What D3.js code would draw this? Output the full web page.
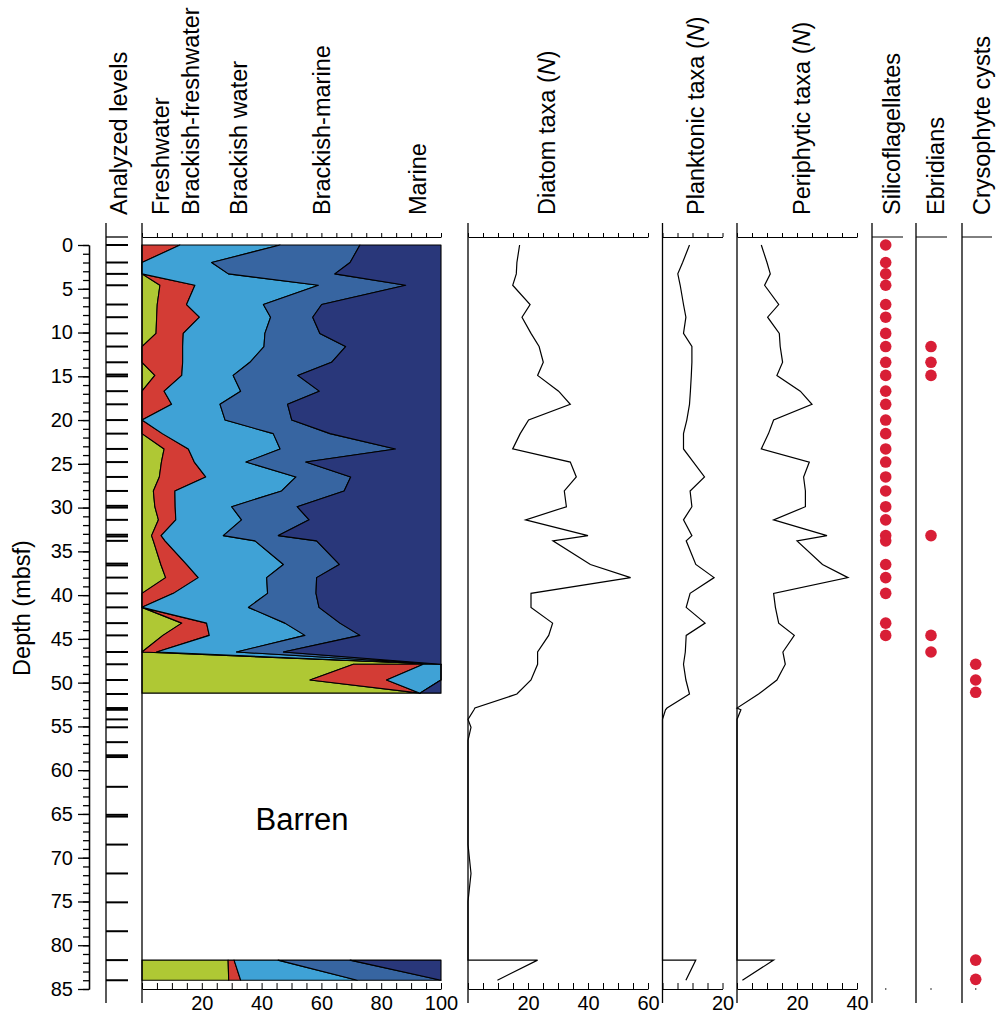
<!DOCTYPE html>
<html><head><meta charset="utf-8">
<script src="https://cdn.jsdelivr.net/npm/d3@7/dist/d3.min.js"></script>
<style>
body{margin:0;background:#fff}
svg{display:block}
text{font-family:"Liberation Sans",Arial,Helvetica,sans-serif;fill:#000}
</style>
</head><body><svg id="c" width="999" height="1023"></svg>
<script>
// ---------------- DATA ----------------
const analyzedLevels = [0,2.0,3.3,4.6,6.8,8.25,10.1,11.6,13.4,14.8,15.0,16.7,18.2,20.0,21.55,23.3,24.8,26.5,28.1,29.8,30.0,31.4,33.1,33.3,33.8,36.4,36.6,38.0,39.8,41.4,43.2,44.6,46.5,47.9,49.7,51.3,52.9,53.1,54.2,55.1,56.8,58.3,58.5,61.9,65.1,65.3,68.5,71.8,75.1,78.4,81.7,84.0];

const ecoGroups = ["Freshwater","Brackish-freshwater","Brackish water","Brackish-marine","Marine"];
const ecoColors = ["#afc834","#d33c35","#3fa2d6","#3765a1","#29377a"];
const ecoDepth = [0,2.0,3.3,4.6,6.8,8.25,10.1,11.6,13.4,14.9, 16.7,18.2,20.0,21.55,23.3,24.8,26.5,28.1,29.9,31.4, 33.2,33.8,36.5,38.0,39.8,41.4,43.2,44.6,46.5,47.9, 47.9,49.7,51.2, 81.7,84.0];
const ecoSegment = [1,1,1,1,1,1,1,1,1,1, 1,1,1,1,1,1,1,1,1,1, 1,1,1,1,1,1,1,1,1,1, 1,1,1, 2,2];
const freshwater     = [0,0,0,6.0,5.1,4.9,4.7,0,0,4.3, 0,0,0,0,7.4,6.5,5.8,3.8,4.3,5.5, 3.2,3.8,6.3,7.9,0,0,13.3,7.0,0,100, 70.7,56.2,93.0, 28.8,29.0];
const brackishFresh  = [12.7,0,0,11.7,9.8,14.3,9.1,13.6,13.6,9.0, 7.4,9.9,0,6.8,8.1,11.0,15.5,7.2,6.8,5.8, 3.2,3.9,8.6,10.9,10.5,0,8.3,15.5,4.9,0, 23.4,25.6,0, 2.0,4.0];
const brackishWater  = [33.5,23.3,28.9,41.3,25.7,23.8,27.3,27.2,22.5,17.2, 25.6,16.2,27.8,37.1,30.7,17.3,30.2,35.7,18.9,22.0, 20.8,30.1,32.4,22.9,31.5,35.6,26.2,32.0,26.7,0, 5.9,18.2,0, 14.7,39.0];
const brackishMarine = [26.7,46.3,35.6,29.2,19.5,14.1,18.4,27.3,27.3,21.6, 26.3,22.6,22.3,19.0,38.6,20.0,18.3,20.9,21.9,22.6, 18.4,20.6,18.7,16.7,16.2,23.6,18.4,18.4,15.7,0, 0,0,0, 24.1,28.0];
const marine         = [27.1,30.4,35.5,11.8,39.9,42.9,40.5,31.9,36.6,47.9, 40.7,51.3,49.9,37.1,15.2,45.2,30.2,32.4,48.1,44.1, 54.4,41.6,34.0,41.6,41.8,40.8,33.8,27.1,52.7,0, 0,0,7.0, 30.4,0];

const taxaDepth   = [0,2.0,3.3,4.6,6.8,8.25,10.1,11.6,13.4,14.9, 16.7,18.2,20.0,21.55,23.3,24.8,26.5,28.1,29.9,31.4, 33.2,33.8,36.5,38.0,39.8,41.4,43.2,44.6,46.5,47.9, 49.7,51.3,52.9,53.1,54.2,55.1,56.6,68.5,71.8,75.0, 81.7,81.7,84.0];
const diatomN     = [17.2,16.3,16.1,14.9,20.7,18.0,21.0,23.7,25.1,23.2, 30.2,34.1,20.2,17.4,14.9,34.1,36.1,32.1,32.8,19.2, 40.0,28.3,40.8,54.2,21.0,21.0,28.2,26.9,23.2,23.2, 21.0,16.3,2.3,2.0,0,1.0,0,0,1.0,0, 0,23.2,9.8];
const planktonicN = [9.0,6.7,5.1,5.9,7.0,7.8,7.0,9.8,9.8,9.6, 9.3,9.0,8.1,7.0,7.0,10.3,14.0,9.2,9.8,7.0, 9.8,7.9,11.1,17.2,9.2,7.9,14.2,7.9,7.6,7.0, 7.8,9.0,1.5,1.0,0,0,0,0,0,0, 0,11.1,7.8];
const periphyticN = [8.1,10.0,11.1,9.2,13.9,10.2,14.1,14.4,15.2,13.3, 21.1,25.0,12.2,10.5,8.1,24.1,22.2,22.8,22.8,12.2, 30.0,20.0,28.5,37.0,12.2,12.8,13.9,19.1,15.3,16.1, 13.3,7.2,0,1.3,0,0,0,0,0,0, 0,12.2,1.8];

const silicoflagellateDepth = [0,2.0,3.3,4.6,6.8,8.25,10.1,11.6,13.4,14.9,16.7,18.2,20.0,21.55,23.3,24.8,26.5,28.1,29.9,31.4,33.2,33.8,36.5,38.0,39.8,43.2,44.6];
const ebridianDepth = [11.6,13.4,14.9,33.2,44.6,46.5];
const cystDepth = [47.9,49.7,51.1,81.7,83.9];

const depthTicks = [0,5,10,15,20,25,30,35,40,45,50,55,60,65,70,75,80,85];
const headerLabels = ["Analyzed levels","Freshwater","Brackish-freshwater","Brackish water","Brackish-marine","Marine"];
const taxaLabels = ["Diatom taxa","Planktonic taxa","Periphytic taxa"];
const presenceLabels = ["Silicoflagellates","Ebridians","Crysophyte cysts"];

// ---------------- DRAW ----------------
const svg = d3.select("#c");
const y = d3.scaleLinear().domain([0,85]).range([245,989]);
const TOP = 223, AXT = 237, BOT = 1003;
const FS = 23.5;

function header(x, parts){
  const t = svg.append("text").attr("transform",`translate(${x},215) rotate(-90)`)
    .attr("font-size",FS);
  parts.forEach(p=>{ t.append("tspan").attr("font-style",p.i?"italic":null).text(p.t); });
}
const hx = [127,168.5,198.5,246.8,330,426];
headerLabels.forEach((l,i)=>header(hx[i],[{t:l}]));
const tx = [555,703.5,810];
taxaLabels.forEach((l,i)=>header(tx[i],[{t:l+" ("},{t:"N",i:true},{t:")"}]));
const px = [900,943.5,990];
presenceLabels.forEach((l,i)=>header(px[i],[{t:l}]));

// depth axis
const ax = svg.append("g").attr("transform","translate(89,0)");
ax.call(d3.axisLeft(y).tickValues(d3.range(0,86,1)).tickSize(6).tickFormat("").tickSizeOuter(0));
const ax2 = svg.append("g").attr("transform","translate(89,0)");
ax2.call(d3.axisLeft(y).tickValues(depthTicks).tickSize(11).tickPadding(5).tickSizeOuter(0));
[ax,ax2].forEach(g=>{g.selectAll("path,line").attr("stroke","#000").attr("stroke-width",1.3);
  g.selectAll("text").attr("font-size",20).attr("font-family",'"Liberation Sans",Arial,sans-serif');});
svg.append("text").attr("transform",`translate(30,${608}) rotate(-90)`).attr("text-anchor","middle")
  .attr("font-size",FS).text("Depth (mbsf)");

// analyzed levels
svg.append("line").attr("x1",106).attr("x2",106).attr("y1",TOP).attr("y2",BOT).attr("stroke","#000").attr("stroke-width",1.3);
svg.append("line").attr("x1",106).attr("x2",128).attr("y1",AXT).attr("y2",AXT).attr("stroke","#000").attr("stroke-width",1.3);
svg.append("g").selectAll("line").data(analyzedLevels).join("line")
  .attr("x1",106).attr("x2",128).attr("y1",d=>y(d)).attr("y2",d=>y(d))
  .attr("stroke","#000").attr("stroke-width",2);

function panelAxes(x, step, labels){
  const [x0,x1] = x.range();
  svg.append("line").attr("x1",x0).attr("x2",x0).attr("y1",TOP).attr("y2",BOT).attr("stroke","#000").attr("stroke-width",1.3);
  const ticks = d3.range(x.domain()[0], x.domain()[1]+0.001, step);
  const gt = svg.append("g").attr("transform",`translate(0,${AXT})`)
    .call(d3.axisTop(x).tickValues(ticks).tickSize(4).tickFormat("").tickSizeOuter(0));
  const gb = svg.append("g").attr("transform",`translate(0,${y(85)})`)
    .call(d3.axisBottom(x).tickValues(ticks).tickSize(-6).tickPadding(7).tickSizeOuter(0)
      .tickFormat(d=>labels.includes(d)?d:""));
  [gt,gb].forEach(g=>{g.selectAll("path,line").attr("stroke","#000").attr("stroke-width",1);
    g.selectAll("text").attr("font-size",20).attr("font-family",'"Liberation Sans",Arial,sans-serif');});
}

// stacked ecology panel
const xe = d3.scaleLinear().domain([0,100]).range([142,441]);
const rows = ecoDepth.map((d,i)=>({depth:d, seg:ecoSegment[i],
  "Freshwater":freshwater[i],"Brackish-freshwater":brackishFresh[i],"Brackish water":brackishWater[i],
  "Brackish-marine":brackishMarine[i],"Marine":marine[i]}));
const stack = d3.stack().keys(ecoGroups)(rows);
const area = d3.area().y(d=>y(d.data.depth)).x0(d=>xe(d[0])).x1(d=>xe(d[1]));
const segs = Array.from(new Set(ecoSegment));
const ge = svg.append("g");
segs.forEach(s=>{
  stack.forEach((layer,k)=>{
    const pts = layer.filter(p=>p.data.seg===s);
    ge.append("path").datum(pts).attr("d",area).attr("fill",ecoColors[k])
      .attr("stroke","#000").attr("stroke-width",1.1).attr("stroke-linejoin","round");
  });
});
panelAxes(xe,5,[20,40,60,80,100]);
svg.append("text").attr("x",302).attr("y",y(66.8)).attr("text-anchor","middle").attr("font-size",31).text("Barren");

function linePanel(x, vals, step, labels){
  panelAxes(x, step, labels);
  const line = d3.line().x((d)=>x(d[1])).y(d=>y(d[0]));
  svg.append("path").datum(taxaDepth.map((d,i)=>[d,vals[i]])).attr("d",line)
    .attr("fill","none").attr("stroke","#000").attr("stroke-width",1.2).attr("stroke-linejoin","miter");
}
linePanel(d3.scaleLinear().domain([0,60]).range([468,648]), diatomN, 5, [20,40,60]);
linePanel(d3.scaleLinear().domain([0,20]).range([662.5,722.5]), planktonicN, 5, [20]);
linePanel(d3.scaleLinear().domain([0,40]).range([737,857]), periphyticN, 5, [20,40]);

const cols = [{x0:872,x1:903,cx:885.7,d:silicoflagellateDepth},{x0:916,x1:947,cx:931,d:ebridianDepth},{x0:962,x1:992,cx:975.7,d:cystDepth}];
cols.forEach(c=>{
  svg.append("line").attr("x1",c.x0).attr("x2",c.x0).attr("y1",TOP).attr("y2",BOT).attr("stroke","#000").attr("stroke-width",1.3);
  svg.append("line").attr("x1",c.x0).attr("x2",c.x1).attr("y1",AXT).attr("y2",AXT).attr("stroke","#000").attr("stroke-width",1);
  svg.append("rect").attr("x",c.cx-0.7).attr("y",y(85)-0.7).attr("width",1.4).attr("height",1.4).attr("fill","#333");
  svg.append("g").selectAll("circle").data(c.d).join("circle")
    .attr("cx",c.cx).attr("cy",d=>y(d)).attr("r",5.8).attr("fill","#d81e36");
});
</script></body></html>
